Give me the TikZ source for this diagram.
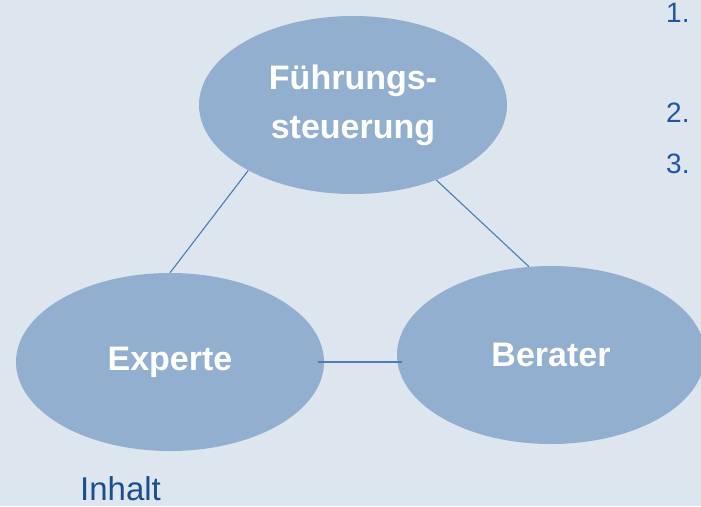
\documentclass[tikz,border=0pt]{standalone}
\usepackage{fontspec}
\setmainfont{Liberation Sans}
\usetikzlibrary{shapes,positioning,calc}

\definecolor{bgblue}{HTML}{DDE5EF}
\definecolor{bubbleblue}{HTML}{93AFCF}
\definecolor{lineblue}{HTML}{4C7CB6}
\definecolor{textblue}{HTML}{1F579E}

\begin{document}
\begin{tikzpicture}[
    x=1pt, y=-1pt,
    bubble/.style={ellipse, fill=bubbleblue, minimum width=308pt, minimum height=178pt,
      inner sep=0pt, text=white, align=center,
      font=\fontsize{34}{49}\selectfont\bfseries},
    link/.style={draw=lineblue, line width=1.1pt},
    note/.style={anchor=base west, inner sep=0pt, text=textblue}
    ]
    \fill[bgblue] (0,0) rectangle (701,506);
    \useasboundingbox (0,0) rectangle (701,506);
    \clip (0,0) rectangle (701,506);

    \node[bubble] (fuehrung) at (353,105) {Führungs-\\steuerung};
    \node[bubble] (experte) at (170,362) {Experte};
    \node[bubble] (berater) at (551,355) {Berater};

    \draw[link] (fuehrung.212.8) -- (experte.north);
    \draw[link] (fuehrung.318.7) -- (berater.104);
    \draw[link] ([xshift=-6pt]experte.east) -- ($(experte.east -| berater.west)+(5,0)$);

    \node[note, font=\fontsize{28}{30}\selectfont] (eins) at (666,23) {1.};
    \node[note, font=\fontsize{28}{30}\selectfont] (zwei) at (666,122) {2.};
    \node[note, font=\fontsize{28}{30}\selectfont] (drei) at (666,173) {3.};
    \node[note, font=\fontsize{33}{36}\selectfont, text=textblue!90!black] (inhalt) at (80,500) {Inhalt};
  \end{tikzpicture}
\end{document}
